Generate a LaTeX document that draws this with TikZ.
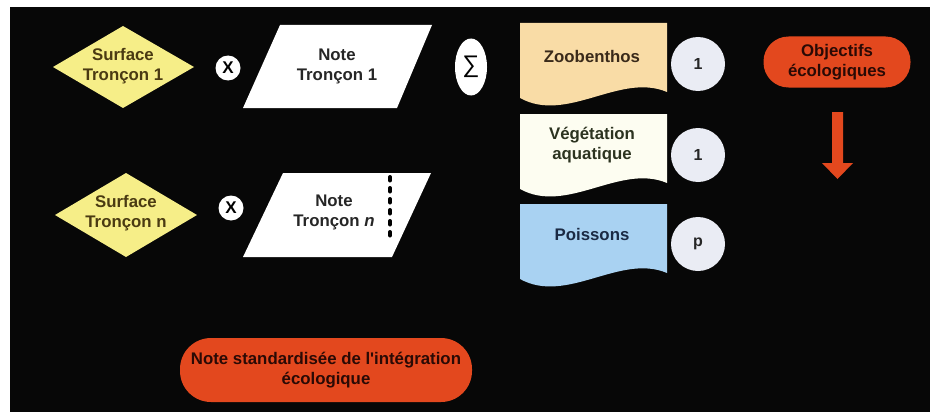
\documentclass[tikz,border=0pt]{standalone}
\usepackage{fontspec}
\setmainfont{Liberation Sans}
\usetikzlibrary{shapes.geometric}
\definecolor{bg}{HTML}{070707}
\definecolor{yel}{HTML}{F6EE88}
\definecolor{yeltext}{HTML}{4A3A12}
\definecolor{zoo}{HTML}{F9DCA6}
\definecolor{zootext}{HTML}{3A2A1A}
\definecolor{veg}{HTML}{FDFDF1}
\definecolor{vegtext}{HTML}{2C3320}
\definecolor{fish}{HTML}{A9D2F2}
\definecolor{fishtext}{HTML}{1B2A44}
\definecolor{circ}{HTML}{EAECF4}
\definecolor{redf}{HTML}{E3481E}
\definecolor{redtext}{HTML}{2A0A05}
\tikzset{
  txt/.style={align=center, inner sep=0pt, font=\fontsize{16.8}{20}\selectfont\bfseries},
  times/.style={circle, fill=white, minimum size=25pt, inner sep=0pt, font=\fontsize{17}{17}\selectfont\bfseries},
  num/.style={circle, fill=circ, minimum size=54pt, inner sep=0pt, text=black!85, font=\fontsize{16}{16}\selectfont\bfseries},
  pill/.style={rectangle, fill=redf, text=redtext, align=center, inner sep=0pt, font=\fontsize{16.8}{20}\selectfont\bfseries},
}
\begin{document}
\begin{tikzpicture}[x=1pt,y=-1pt]
\useasboundingbox (0,0) rectangle (936,412);
\fill[white] (0,0) rectangle (936,412);
\fill[bg] (10,7) rectangle (930,412);

% surfaces
\fill[yel] (53,67) -- (123,26) -- (194,67) -- (123,108) -- cycle;
\node[txt, text=yeltext] (s1) at (123,66) {Surface\\Tronçon 1};
\fill[yel] (55,215) -- (126,173) -- (197,215) -- (126,257) -- cycle;
\node[txt, text=yeltext] (sn) at (126,213) {Surface\\Tronçon n};

% multiplication signs
\node[times] (x1) at (228,68) {X};
\node[times] (xn) at (231,208) {X};

% notes (parallelograms)
\fill[white] (280,25) -- (432,25) -- (397,108) -- (243,108) -- cycle;
\node[txt, text=black!85] (n1) at (337,66) {Note\\Tronçon 1};
\fill[white] (283,173) -- (431,173) -- (392,257) -- (243,257) -- cycle;
\node[txt, text=black!85] (nn) at (334,212) {Note\\Tronçon \textit{n}};
\draw[line width=4pt, dash pattern=on 3.5pt off 7.5pt, line cap=round] (390,177) -- (390,243);

% sum
\node[ellipse, fill=white, minimum width=32pt, minimum height=57pt, inner sep=0pt] (sig) at (471,67) {\fontsize{24}{24}\selectfont ∑};

% documents
\fill[zoo] (520,23) -- (667,23) -- (667,92) .. controls (620,72) and (567,124) .. (520,98) -- cycle;
\node[txt, text=zootext] (zoo) at (592,56) {Zoobenthos};
\begin{scope}[shift={(0,91)}]
\fill[veg] (520,23) -- (667,23) -- (667,92) .. controls (620,72) and (567,124) .. (520,98) -- cycle;
\end{scope}
\node[txt, text=vegtext] (veg) at (592,145) {Végétation\\aquatique};
\begin{scope}[shift={(0,181)}]
\fill[fish] (520,23) -- (667,23) -- (667,92) .. controls (620,72) and (567,124) .. (520,98) -- cycle;
\end{scope}
\node[txt, text=fishtext] (fish) at (592,234) {Poissons};

% weights
\node[num] (w1) at (698,64) {1};
\node[num] (w2) at (698,155) {1};
\node[num] (w3) at (698,244) {p};

% objectives
\node[pill, minimum width=147pt, minimum height=51pt, rounded corners=25pt] (obj) at (837,62) {Objectifs\\écologiques};
\fill[redf] (832,112) -- (843,112) -- (843,163) -- (853,163) -- (837.5,179) -- (822,163) -- (832,163) -- cycle;

% result
\node[pill, minimum width=292pt, minimum height=64pt, rounded corners=31pt] (res) at (326,370) {Note standardisée de l\textquotesingle intégration\\écologique};
\end{tikzpicture}
\end{document}
